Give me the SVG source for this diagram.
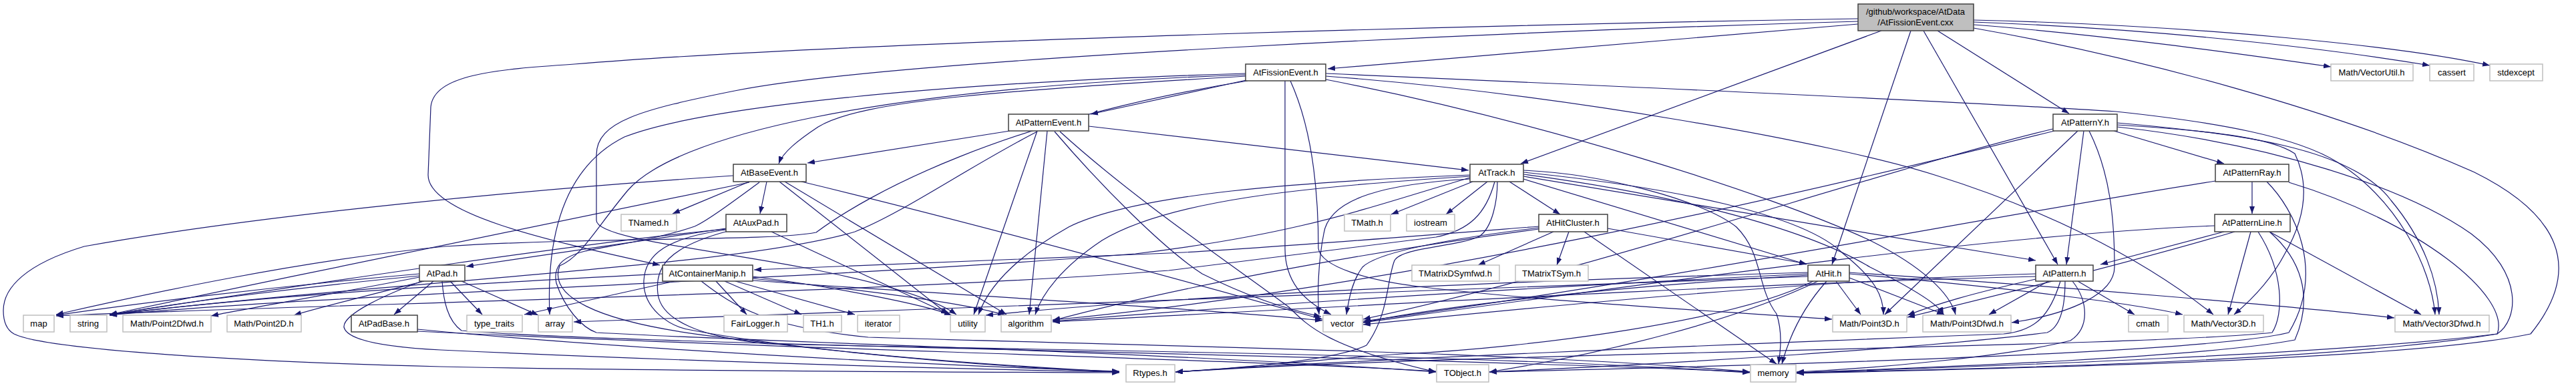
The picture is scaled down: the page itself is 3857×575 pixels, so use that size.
<svg xmlns="http://www.w3.org/2000/svg" width="3857" height="575" viewBox="0 0 3857 575">
<defs>
<style>
text{font-family:"Liberation Sans",Arial,Helvetica,sans-serif;font-size:13px;text-anchor:middle;fill:#000}
.n rect{fill:#fff;stroke:#404040;stroke-width:1.5}
.x rect{fill:#fff;stroke:#bfbfbf;stroke-width:1.5}
.r rect{fill:#bfbfbf;stroke:#404040;stroke-width:1.5}
#edges path{fill:none;stroke:#191970;stroke-width:1.2;marker-end:url(#a)}
</style>
<marker id="a" markerWidth="11" markerHeight="8" refX="11" refY="4" orient="auto" markerUnits="userSpaceOnUse"><path d="M0,0 L11,4 L0,8 z" fill="#191970"/></marker>
</defs>
<rect width="3857" height="575" fill="#fff"/>
<g id="edges">
<path d="M2782,36 L1988,103"/>
<path d="M2782,28 C2300,36 1300,60 860,96 C740,104 650,112 645,160 L641,262 C641,322 830,362 988,397"/>
<path d="M2782,32 C2300,46 1350,86 1100,136 C960,164 893,182 893,232 L893,330 C893,356 1050,372 1200,400 C1330,425 1400,448 1432,471"/>
<path d="M2817,46 L2277,245"/>
<path d="M2861,46 L2743,396"/>
<path d="M2880,46 L3081,396"/>
<path d="M2901,46 L3098,170"/>
<path d="M2955,37 C3150,52 3350,80 3490,100"/>
<path d="M2955,33 C3250,44 3500,75 3638,98"/>
<path d="M2955,30 C3300,38 3600,70 3728,98"/>
<path d="M2955,42 C3200,85 3500,166 3705,258 C3830,320 3870,400 3789,500 C3600,540 3000,552 2690,559"/>
<path d="M1866,120 L1633,171"/>
<path d="M1865,114 C1500,136 1290,150 1225,190 C1195,210 1172,228 1166,245"/>
<path d="M1865,110 C1400,124 1050,160 935,205 C845,250 818,350 823,471"/>
<path d="M1865,112 C1300,132 1010,205 940,285 C890,345 870,385 838,398 C822,440 880,482 1080,505 C1300,533 1500,550 1676,557"/>
<path d="M1868,121 C1500,180 1300,290 1222,348 C1150,362 900,354 666,369 C450,390 220,440 84,471"/>
<path d="M1924,121 L1924,372 C1924,420 1950,450 1993,471"/>
<path d="M1932,121 C1968,200 1974,300 1974,372 C1978,400 2050,420 2123,429 C2300,450 2550,465 2743,478"/>
<path d="M1985,110 C2400,128 2900,150 3168,167 C3320,183 3440,205 3500,243 C3590,300 3640,400 3646,471"/>
<path d="M1985,114 C2330,140 2745,213 2900,263 C3050,310 3200,380 3314,471"/>
<path d="M1985,119 C2300,180 2650,290 2800,360 C2880,400 2920,440 2928,471"/>
<path d="M1512,196 L1209,244"/>
<path d="M1553,196 L1458,471"/>
<path d="M1568,196 L1541,471"/>
<path d="M1630,189 C1800,210 2000,232 2199,255"/>
<path d="M1579,197 C1650,280 1743,373 1800,410 C1860,440 1920,462 1978,474"/>
<path d="M1587,197 C1700,300 1850,400 1930,460 C1960,490 1990,520 2150,557"/>
<path d="M1553,197 C1450,250 1350,320 1280,347 C1100,400 600,420 164,471"/>
<path d="M1098,263 C800,283 400,320 126,369 C40,395 5,430 5,465 C5,485 12,495 21,500 C60,520 300,540 660,549 C1000,556 1400,557 1676,558"/>
<path d="M1122,273 C900,320 500,400 164,471"/>
<path d="M1122,272 L1007,320"/>
<path d="M1148,272 L1138,320"/>
<path d="M1167,272 L1420,471"/>
<path d="M1175,272 L1507,471"/>
<path d="M1200,272 C1400,320 1700,400 1980,478"/>
<path d="M1137,273 C1100,300 1060,330 1040,339 C980,360 900,370 876,376 C840,385 828,400 833,424 C845,460 870,490 893,498 C1200,515 1700,525 2150,557"/>
<path d="M1087,342 L698,399"/>
<path d="M1087,343 C900,360 500,420 164,471"/>
<path d="M1087,344 C1000,356 966,380 964,420 C962,460 1000,490 1039,495 C1200,525 1450,545 1676,557"/>
<path d="M1090,346 C1000,370 980,400 985,440 C990,480 1050,505 1150,515 C1600,525 2200,530 2620,558"/>
<path d="M1155,347 L1420,470"/>
<path d="M1010,421 L785,471"/>
<path d="M1072,421 L1118,471"/>
<path d="M1085,421 L1200,471"/>
<path d="M1101,421 L1280,471"/>
<path d="M1127,414 C1250,430 1380,455 1425,472"/>
<path d="M1127,417 C1300,435 1450,455 1505,472"/>
<path d="M1127,420 C1400,440 1800,462 1980,480"/>
<path d="M992,410 C800,420 400,440 164,472"/>
<path d="M1050,421 C1100,460 1150,490 1300,505 C1800,520 2300,528 2620,557"/>
<path d="M649,421 L590,471"/>
<path d="M674,421 L722,471"/>
<path d="M691,421 L806,472"/>
<path d="M628,410 C400,430 200,455 84,472"/>
<path d="M628,413 C450,430 250,455 164,472"/>
<path d="M628,415 C500,440 380,460 316,473"/>
<path d="M635,421 C560,440 480,460 440,472"/>
<path d="M632,421 C580,440 513,470 515,490 C520,510 580,520 660,524 C1000,540 1400,552 1676,557"/>
<path d="M662,421 C664,450 670,480 691,495 C900,515 2000,530 2620,557"/>
<path d="M625,493 C900,520 1400,548 1676,556"/>
<path d="M625,496 C1100,520 1800,536 2150,556"/>
<path d="M2205,272 L2083,321"/>
<path d="M2227,272 L2165,321"/>
<path d="M2260,272 L2336,321"/>
<path d="M2201,262 C1950,272 1700,290 1600,340 C1520,385 1480,430 1465,471"/>
<path d="M2201,264 C1950,280 1750,300 1650,360 C1590,400 1560,440 1550,471"/>
<path d="M2201,266 C2050,310 1950,350 1700,380 C1200,420 500,440 164,472"/>
<path d="M2201,268 C2080,275 1990,295 1982,350 C1974,390 1972,440 1975,471"/>
<path d="M2242,272 C2242,300 2235,340 2215,354 C2180,370 2100,370 2088,390 C2076,420 2080,470 2046,517 C2000,540 1850,552 1760,557"/>
<path d="M2238,272 C2225,320 2200,345 2150,355 C2000,375 1900,385 1750,405 C1300,440 500,455 84,473"/>
<path d="M2281,268 L2705,396"/>
<path d="M2281,264 C2500,300 2800,350 3048,390"/>
<path d="M2281,258 C2500,280 2700,320 2760,380 C2810,420 2820,445 2820,471"/>
<path d="M2281,261 C2500,290 2700,340 2800,400 C2880,440 2905,460 2910,471"/>
<path d="M2281,255 C2400,260 2550,300 2600,340 C2640,380 2630,430 2660,470 C2670,500 2665,530 2663,545"/>
<path d="M2326,347 L2213,397"/>
<path d="M2349,347 L2331,397"/>
<path d="M2372,347 L2660,545"/>
<path d="M2407,342 L2705,395"/>
<path d="M2304,339 C2100,355 1850,375 1750,379 C1500,390 1300,398 1129,404"/>
<path d="M2304,341 C2150,360 2060,380 2040,400 C2025,420 2020,445 2016,471"/>
<path d="M2304,343 C2100,370 1800,420 1576,480"/>
<path d="M2749,421 L2786,471"/>
<path d="M2769,416 L2911,471"/>
<path d="M2735,421 C2700,460 2680,500 2668,545"/>
<path d="M2707,412 C2400,430 2150,460 2041,483"/>
<path d="M2707,408 C2300,420 1800,440 1476,472"/>
<path d="M2707,410 C2300,430 1900,455 1576,481"/>
<path d="M2707,414 C2200,430 1500,460 859,482"/>
<path d="M2715,421 C2600,480 2300,520 2100,530 C1950,540 1850,552 1760,557"/>
<path d="M2722,421 C2600,480 2400,530 2230,557"/>
<path d="M2769,410 C3000,430 3200,455 3268,471"/>
<path d="M2769,408 C3100,430 3450,460 3585,476"/>
<path d="M3048,418 C2950,440 2900,455 2856,472"/>
<path d="M3067,421 L2978,471"/>
<path d="M3111,421 L3196,471"/>
<path d="M3103,421 C3126,450 3130,490 3100,510 C3000,535 2800,552 2690,557"/>
<path d="M3092,421 C3092,460 3085,490 3065,498 C2900,520 2500,545 2230,557"/>
<path d="M3085,421 C3070,470 3050,495 3000,500 C2600,515 2000,540 1760,557"/>
<path d="M3048,410 C2700,420 2300,460 2041,486"/>
<path d="M3048,414 C2600,425 2000,460 1576,482"/>
<path d="M3120,196 L3094,396"/>
<path d="M3111,196 L2822,471"/>
<path d="M3128,196 C3160,260 3166,330 3166,400 C3166,440 3100,470 3012,483"/>
<path d="M3165,196 L3330,245"/>
<path d="M3170,187 C3300,195 3400,205 3436,230 C3460,280 3450,330 3421,380 C3400,420 3370,450 3345,471"/>
<path d="M3170,184 C3350,200 3520,220 3580,300 C3630,360 3650,420 3652,471"/>
<path d="M3170,190 C3400,215 3600,280 3700,350 C3780,410 3770,480 3739,500 C3500,530 3000,548 2690,558"/>
<path d="M3074,193 C2800,260 2400,400 2041,478"/>
<path d="M3076,196 C2700,290 2100,430 1576,479"/>
<path d="M3372,272 L3372,320"/>
<path d="M3317,271 C3000,320 2500,420 2041,481"/>
<path d="M3394,272 C3436,314 3482,406 3427,498 C3300,530 2600,548 2230,557"/>
<path d="M3427,273 C3621,332 3760,443 3739,500 C3500,540 3000,552 2690,558"/>
<path d="M3330,347 L3145,396"/>
<path d="M3370,347 L3336,471"/>
<path d="M3398,347 L3625,471"/>
<path d="M3346,347 C3200,390 3000,440 2856,475"/>
<path d="M3316,338 C3000,350 2500,420 2041,483"/>
<path d="M3381,347 C3419,406 3420,470 3402,498 C3200,520 2200,528 1760,557"/>
<path d="M3398,347 C3444,387 3465,443 3436,509 C3300,535 2900,550 2690,558"/>
</g>
<g id="root" class="r"><rect x="2782" y="6" width="173" height="40"/><text x="2868" y="22">/github/workspace/AtData</text><text x="2868" y="38">/AtFissionEvent.cxx</text></g>
<g id="n-fissionevent" class="n"><rect x="1865" y="96" width="120" height="25"/><text x="1925" y="113">AtFissionEvent.h</text></g>
<g id="n-vectorutil" class="x"><rect x="3490" y="96" width="123" height="25"/><text x="3551" y="113">Math/VectorUtil.h</text></g>
<g id="n-cassert" class="x"><rect x="3638" y="96" width="66" height="25"/><text x="3671" y="113">cassert</text></g>
<g id="n-stdexcept" class="x"><rect x="3728" y="96" width="79" height="25"/><text x="3767" y="113">stdexcept</text></g>
<g id="n-patternevent" class="n"><rect x="1510" y="171" width="120" height="25"/><text x="1570" y="188">AtPatternEvent.h</text></g>
<g id="n-patterny" class="n"><rect x="3074" y="171" width="96" height="25"/><text x="3122" y="188">AtPatternY.h</text></g>
<g id="n-baseevent" class="n"><rect x="1098" y="246" width="109" height="26"/><text x="1152" y="263">AtBaseEvent.h</text></g>
<g id="n-track" class="n"><rect x="2201" y="246" width="80" height="26"/><text x="2241" y="263">AtTrack.h</text></g>
<g id="n-patternray" class="n"><rect x="3317" y="246" width="110" height="26"/><text x="3372" y="263">AtPatternRay.h</text></g>
<g id="n-tnamed" class="x"><rect x="930" y="321" width="83" height="25"/><text x="971" y="338">TNamed.h</text></g>
<g id="n-auxpad" class="n"><rect x="1087" y="321" width="91" height="26"/><text x="1132" y="338">AtAuxPad.h</text></g>
<g id="n-tmath" class="x"><rect x="2013" y="321" width="69" height="25"/><text x="2047" y="338">TMath.h</text></g>
<g id="n-iostream" class="x"><rect x="2106" y="321" width="72" height="25"/><text x="2142" y="338">iostream</text></g>
<g id="n-hitcluster" class="n"><rect x="2304" y="321" width="103" height="26"/><text x="2355" y="338">AtHitCluster.h</text></g>
<g id="n-patternline" class="n"><rect x="3316" y="321" width="113" height="26"/><text x="3372" y="338">AtPatternLine.h</text></g>
<g id="n-pad" class="n"><rect x="628" y="397" width="68" height="24"/><text x="662" y="414">AtPad.h</text></g>
<g id="n-containermanip" class="n"><rect x="992" y="397" width="135" height="24"/><text x="1059" y="414">AtContainerManip.h</text></g>
<g id="n-tmatrixdsymfwd" class="x"><rect x="2114" y="397" width="131" height="24"/><text x="2179" y="414">TMatrixDSymfwd.h</text></g>
<g id="n-tmatrixtsym" class="x"><rect x="2269" y="397" width="109" height="24"/><text x="2323" y="414">TMatrixTSym.h</text></g>
<g id="n-hit" class="n"><rect x="2707" y="397" width="62" height="24"/><text x="2738" y="414">AtHit.h</text></g>
<g id="n-pattern" class="n"><rect x="3048" y="397" width="86" height="24"/><text x="3091" y="414">AtPattern.h</text></g>
<g id="n-map" class="x"><rect x="35" y="472" width="46" height="25"/><text x="58" y="489">map</text></g>
<g id="n-string" class="x"><rect x="105" y="472" width="55" height="25"/><text x="132" y="489">string</text></g>
<g id="n-point2dfwd" class="x"><rect x="184" y="472" width="132" height="25"/><text x="250" y="489">Math/Point2Dfwd.h</text></g>
<g id="n-point2d" class="x"><rect x="340" y="472" width="111" height="25"/><text x="395" y="489">Math/Point2D.h</text></g>
<g id="n-padbase" class="n"><rect x="526" y="472" width="99" height="25"/><text x="575" y="489">AtPadBase.h</text></g>
<g id="n-typetraits" class="x"><rect x="699" y="472" width="83" height="25"/><text x="740" y="489">type_traits</text></g>
<g id="n-array" class="x"><rect x="806" y="472" width="51" height="25"/><text x="831" y="489">array</text></g>
<g id="n-fairlogger" class="x"><rect x="1084" y="472" width="95" height="25"/><text x="1131" y="489">FairLogger.h</text></g>
<g id="n-th1" class="x"><rect x="1203" y="472" width="57" height="25"/><text x="1231" y="489">TH1.h</text></g>
<g id="n-iterator" class="x"><rect x="1284" y="472" width="63" height="25"/><text x="1315" y="489">iterator</text></g>
<g id="n-utility" class="x"><rect x="1423" y="472" width="52" height="25"/><text x="1449" y="489">utility</text></g>
<g id="n-algorithm" class="x"><rect x="1499" y="472" width="75" height="25"/><text x="1536" y="489">algorithm</text></g>
<g id="n-vector" class="x"><rect x="1981" y="472" width="59" height="25"/><text x="2010" y="489">vector</text></g>
<g id="n-point3d" class="x"><rect x="2744" y="472" width="111" height="25"/><text x="2799" y="489">Math/Point3D.h</text></g>
<g id="n-point3dfwd" class="x"><rect x="2879" y="472" width="132" height="25"/><text x="2945" y="489">Math/Point3Dfwd.h</text></g>
<g id="n-cmath" class="x"><rect x="3187" y="472" width="59" height="25"/><text x="3216" y="489">cmath</text></g>
<g id="n-vector3d" class="x"><rect x="3270" y="472" width="119" height="25"/><text x="3329" y="489">Math/Vector3D.h</text></g>
<g id="n-vector3dfwd" class="x"><rect x="3586" y="472" width="141" height="25"/><text x="3656" y="489">Math/Vector3Dfwd.h</text></g>
<g id="n-rtypes" class="x"><rect x="1686" y="546" width="73" height="26"/><text x="1722" y="563">Rtypes.h</text></g>
<g id="n-tobject" class="x"><rect x="2151" y="546" width="78" height="26"/><text x="2190" y="563">TObject.h</text></g>
<g id="n-memory" class="x"><rect x="2621" y="546" width="68" height="26"/><text x="2655" y="563">memory</text></g>
</svg>
